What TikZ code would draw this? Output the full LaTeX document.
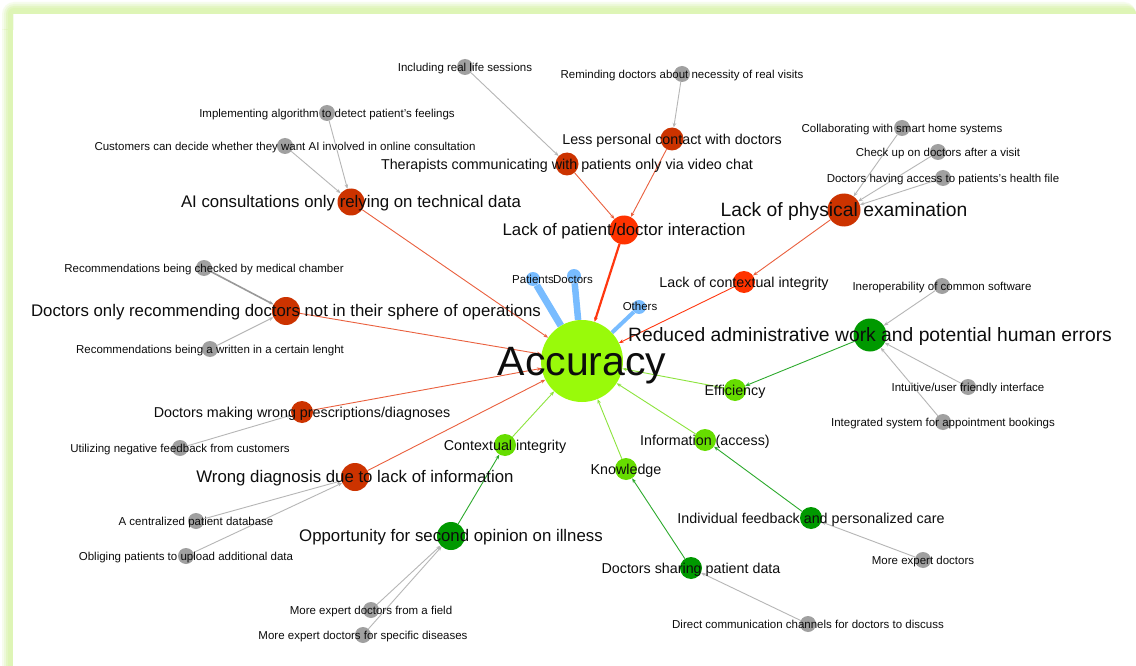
\documentclass[tikz,border=0pt]{standalone}
\usepackage{fontspec}
\setmainfont{Liberation Sans}
\usetikzlibrary{arrows.meta}
\pgfdeclarelayer{frame}
\pgfdeclarelayer{edges}
\pgfsetlayers{frame,edges,main}

\definecolor{accFill}{RGB}{153,250,10}
\definecolor{redDark}{RGB}{204,51,0}
\definecolor{redBright}{RGB}{255,51,0}
\definecolor{greenLight}{RGB}{102,221,0}
\definecolor{greenDark}{RGB}{0,153,0}
\definecolor{greyNode}{RGB}{160,160,160}
\definecolor{blueNode}{RGB}{120,188,255}
\definecolor{edgeRed}{RGB}{234,96,62}
\definecolor{edgeRedBright}{RGB}{255,55,15}
\definecolor{edgeGreenLight}{RGB}{140,228,60}
\definecolor{edgeGreenDark}{RGB}{45,170,45}
\definecolor{edgeGrey}{RGB}{182,182,182}
\definecolor{frameGreen}{RGB}{222,245,182}

% label text: fixed height box so that the node centre sits at mid cap height
\newcommand\lbtx[1]{\rule{0pt}{.7em}\smash{#1}}
% top band and left band of the frame, outer corner rounded
\newcommand\bandtop[2]{(#1,30) [rounded corners=#2] -- (#1,#1) -- (1136,#1) [sharp corners] -- (1136,14) -- (13,14) -- (13,30) -- cycle}
\newcommand\bandleft[1]{(#1,29) rectangle (13,666)}

\tikzset{
  bub/.style={circle, inner sep=0pt, minimum size=#1, draw=none},
  lab/.style={inner sep=0pt, text=black!95, font=\fontsize{#1}{#1}\selectfont},
  hub/.style={bub=82, fill=accFill},
  rd/.style={bub=#1, fill=redDark},
  rb/.style={bub=#1, fill=redBright},
  gl/.style={bub=#1, fill=greenLight},
  gd/.style={bub=#1, fill=greenDark},
  gy/.style={bub=16, fill=greyNode},
  bl/.style={bub=14, fill=blueNode},
  link/.style={-{Stealth[length=4.5pt,width=3.6pt]}, line width=0.9pt},
  lkRed/.style={link, draw=edgeRed},
  lkRedB/.style={link, draw=edgeRedBright},
  lkGL/.style={link, draw=edgeGreenLight},
  lkGD/.style={link, draw=edgeGreenDark},
  lkGy/.style={link, draw=edgeGrey},
  lkBl/.style={draw=blueNode, line width=#1},
}

\begin{document}
\begin{tikzpicture}[x=1pt,y=-1pt]
\useasboundingbox (0,0) rectangle (1136,666);

% soft green frame along the top and left edges
\begin{pgfonlayer}{frame}
\fill[white] (0,0) rectangle (1136,666);
\foreach \o/\r/\op in {2/12/0.25, 4/10/0.35, 6/8/0.6, 8/6/1}{
  \fill[frameGreen, opacity=\op] \bandtop{\o}{\r};
  \fill[frameGreen, opacity=\op] \bandleft{\o};
}
\end{pgfonlayer}

% ---------- circles ----------
\node[hub] (acc) at (582,361) {};

\node[rb=29] (lpd) at (624,230) {};
\node[rb=22] (lci) at (744,282) {};
\node[rd=33] (lpe) at (844,210) {};
\node[rd=27] (aic) at (351,202) {};
\node[rd=28] (dor) at (286,311) {};
\node[rd=22] (dmw) at (302,412) {};
\node[rd=28] (wdl) at (355,477) {};
\node[rd=23] (lpc) at (672,139) {};
\node[rd=23] (thp) at (567,164) {};

\node[gd=33] (rad) at (870,335) {};
\node[gl=22] (eff) at (735,390) {};
\node[gl=22] (inf) at (705,440) {};
\node[gl=22] (knw) at (626,469) {};
\node[gl=22] (cin) at (505,445) {};
\node[gd=22] (ifp) at (811,518) {};
\node[gd=22] (dsp) at (691,568) {};
\node[gd=28] (osp) at (451,536) {};

\node[gy] (g1) at (327,113) {};
\node[gy] (g2) at (285,146) {};
\node[gy] (g3) at (465,67) {};
\node[gy] (g4) at (682,74) {};
\node[gy] (g5) at (902,128) {};
\node[gy] (g6) at (938,152) {};
\node[gy] (g7) at (943,178) {};
\node[gy] (g8) at (942,286) {};
\node[gy] (g9) at (968,387) {};
\node[gy] (g10) at (943,422) {};
\node[gy] (g11) at (923,560) {};
\node[gy] (g12) at (808,624) {};
\node[gy] (g13) at (371,610) {};
\node[gy] (g14) at (363,635) {};
\node[gy] (g15) at (196,521) {};
\node[gy] (g16) at (186,556) {};
\node[gy] (g17) at (180,448) {};
\node[gy] (g18) at (204,268) {};
\node[gy] (g19) at (210,349) {};

\node[bl] (pat) at (533,279) {};
\node[bl] (doc) at (574,276) {};
\node[bl] (oth) at (639,307) {};

% ---------- connectors ----------
\begin{pgfonlayer}{edges}
\draw[lkBl=7pt] (pat) -- (acc);
\draw[lkBl=6.5pt] (doc) -- (acc);
\draw[lkBl=4pt] (oth) -- (acc);

\draw[lkRedB, line width=2.2pt] (lpd) -- (acc);
\draw[lkRedB] (lci) -- (acc);
\draw[lkRed] (lpe) -- (lci);
\draw[lkRed] (aic) -- (acc);
\draw[lkRed] (dor) -- (acc);
\draw[lkRed] (dmw) -- (acc);
\draw[lkRed] (wdl) -- (acc);
\draw[lkRed] (lpc) -- (lpd);
\draw[lkRed] (thp) -- (lpd);

\draw[lkGL] (eff) -- (acc);
\draw[lkGL] (inf) -- (acc);
\draw[lkGL] (knw) -- (acc);
\draw[lkGL] (cin) -- (acc);
\draw[lkGD] (rad) -- (eff);
\draw[lkGD] (ifp) -- (inf);
\draw[lkGD] (dsp) -- (knw);
\draw[lkGD] (osp) -- (cin);

\draw[lkGy] (g1) -- (aic);
\draw[lkGy] (g2) -- (aic);
\draw[lkGy] (g3) -- (thp);
\draw[lkGy] (g4) -- (lpc);
\draw[lkGy] (g5) -- (lpe);
\draw[lkGy] (g6) -- (lpe);
\draw[lkGy] (g7) -- (lpe);
\draw[lkGy] (g8) -- (rad);
\draw[lkGy] (g9) -- (rad);
\draw[lkGy] (g10) -- (rad);
\draw[lkGy] (g11) -- (ifp);
\draw[lkGy] (g12) -- (dsp);
\draw[lkGy] (g13) -- (osp);
\draw[lkGy] (g14) -- (osp);
\draw[lkGy] (g15) -- (wdl);
\draw[lkGy] (g16) -- (wdl);
\draw[lkGy] (g17) -- (dmw);
\draw[lkGy, line width=1.6pt, draw=black!40] (g18) -- (dor);
\draw[lkGy] (g19) -- (dor);
\end{pgfonlayer}

% ---------- labels ----------
\node[lab=41] (acc-t) at (acc) {\lbtx{Accuracy}};

\node[lab=16.8] (lpd-t) at (lpd) {\lbtx{Lack of patient/doctor interaction}};
\node[lab=14.3] (lci-t) at (lci) {\lbtx{Lack of contextual integrity}};
\node[lab=19.3] (lpe-t) at (lpe) {\lbtx{Lack of physical examination}};
\node[lab=16.8] (aic-t) at (aic) {\lbtx{AI consultations only relying on technical data}};
\node[lab=16.8] (dor-t) at (dor) {\lbtx{Doctors only recommending doctors not in their sphere of operations}};
\node[lab=14.3] (dmw-t) at (dmw) {\lbtx{Doctors making wrong prescriptions/diagnoses}};
\node[lab=16.8] (wdl-t) at (wdl) {\lbtx{Wrong diagnosis due to lack of information}};
\node[lab=14.3] (lpc-t) at (lpc) {\lbtx{Less personal contact with doctors}};
\node[lab=14.3] (thp-t) at (thp) {\lbtx{Therapists communicating with patients only via video chat}};

\node[lab=19.3] (rad-t) at (rad) {\lbtx{Reduced administrative work and potential human errors}};
\node[lab=14.3] (eff-t) at (eff) {\lbtx{Efficiency}};
\node[lab=14.3] (inf-t) at (inf) {\lbtx{Information (access)}};
\node[lab=14.3] (knw-t) at (knw) {\lbtx{Knowledge}};
\node[lab=14.3] (cin-t) at (cin) {\lbtx{Contextual integrity}};
\node[lab=14.3] (ifp-t) at (ifp) {\lbtx{Individual feedback and personalized care}};
\node[lab=14.3] (dsp-t) at (dsp) {\lbtx{Doctors sharing patient data}};
\node[lab=16.8] (osp-t) at (osp) {\lbtx{Opportunity for second opinion on illness}};

\node[lab=11.5] (g1-t) at (g1) {\lbtx{Implementing algorithm to detect patient's feelings}};
\node[lab=11.5] (g2-t) at (g2) {\lbtx{Customers can decide whether they want AI involved in online consultation}};
\node[lab=11.5] (g3-t) at (g3) {\lbtx{Including real life sessions}};
\node[lab=11.5] (g4-t) at (g4) {\lbtx{Reminding doctors about necessity of real visits}};
\node[lab=11.5] (g5-t) at (g5) {\lbtx{Collaborating with smart home systems}};
\node[lab=11.5] (g6-t) at (g6) {\lbtx{Check up on doctors after a visit}};
\node[lab=11.5] (g7-t) at (g7) {\lbtx{Doctors having access to patients's health file}};
\node[lab=11.5] (g8-t) at (g8) {\lbtx{Ineroperability of common software}};
\node[lab=11.5] (g9-t) at (g9) {\lbtx{Intuitive/user friendly interface}};
\node[lab=11.5] (g10-t) at (g10) {\lbtx{Integrated system for appointment bookings}};
\node[lab=11.5] (g11-t) at (g11) {\lbtx{More expert doctors}};
\node[lab=11.5] (g12-t) at (g12) {\lbtx{Direct communication channels for doctors to discuss}};
\node[lab=11.5] (g13-t) at (g13) {\lbtx{More expert doctors from a field}};
\node[lab=11.5] (g14-t) at (g14) {\lbtx{More expert doctors for specific diseases}};
\node[lab=11.5] (g15-t) at (g15) {\lbtx{A centralized patient database}};
\node[lab=11.5] (g16-t) at (g16) {\lbtx{Obliging patients to upload additional data}};
\node[lab=11.5] (g17-t) at (g17) {\lbtx{Utilizing negative feedback from customers}};
\node[lab=11.5] (g18-t) at (g18) {\lbtx{Recommendations being checked by medical chamber}};
\node[lab=11.5] (g19-t) at (g19) {\lbtx{Recommendations being a written in a certain lenght}};

\node[lab=11.5] (pat-t) at (533,279) {\lbtx{Patients}};
\node[lab=11.5] (doc-t) at (573,279) {\lbtx{Doctors}};
\node[lab=11.5] (oth-t) at (640,306) {\lbtx{Others}};
\end{tikzpicture}
\end{document}
